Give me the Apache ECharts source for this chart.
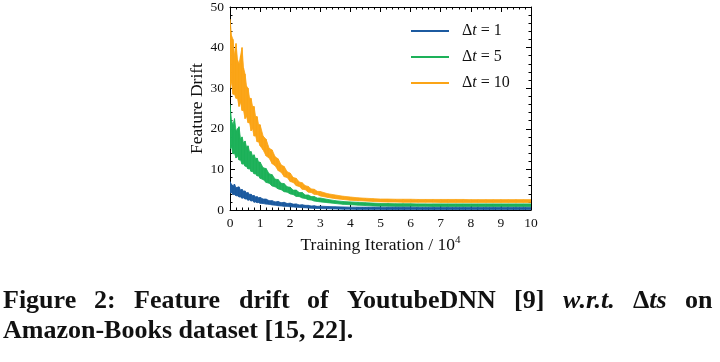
<!DOCTYPE html>
<html>
<head>
<meta charset="utf-8">
<script src="https://cdn.jsdelivr.net/npm/echarts@6/dist/echarts.min.js"></script>
<style>html,body{margin:0;padding:0;background:#fff;}#c{width:720px;height:362px;}</style>
</head>
<body>
<div id="c"></div>
<script>
// Training iteration (x 10^4)
const iterations = [0,0.05,0.1,0.15,0.2,0.25,0.3,0.35,0.4,0.45,0.5,0.55,0.6,0.65,0.7,0.75,0.8,0.85,0.9,0.95,1.0,
  1.1,1.2,1.3,1.4,1.5,1.6,1.7,1.8,1.9,2.0,2.1,2.2,2.3,2.4,2.5,2.6,2.7,2.8,2.9,3.0,
  3.25,3.5,3.75,4,4.25,4.5,4.75,5,5.25,5.5,5.75,6,6.25,6.5,6.75,7,7.25,7.5,7.75,8,8.25,8.5,8.75,9,9.25,9.5,9.75,10];
// Feature drift, upper / lower edge of the noisy band
const dt1_upper = [7,6.3,6.0,6.4,5.5,5.6,5.7,4.9,5.1,4.6,4.7,4.2,4.3,3.8,3.9,3.5,3.6,3.2,3.3,3.0,3.1,
  2.7,2.7,2.3,2.3,2.0,2.1,1.8,1.9,1.6,1.7,1.45,1.5,1.25,1.3,1.15,1.15,1.0,1.05,0.9,0.95,
  0.85,0.8,0.75,0.7,0.7,0.7,0.7,0.7,0.7,0.7,0.7,0.7,0.65,0.65,0.65,0.65,0.65,0.65,0.65,0.65,0.65,0.65,0.65,0.65,0.65,0.65,0.65,0.65];
const dt1_lower = [4.2,4.3,3.8,3.8,3.5,3.5,3.2,3.2,2.9,3.0,2.7,2.7,2.4,2.5,2.2,2.3,1.9,2.0,1.8,1.85,1.65,
  1.6,1.45,1.4,1.25,1.2,1.05,1.0,0.9,0.9,0.78,0.75,0.68,0.65,0.58,0.55,0.48,0.45,0.4,0.4,0.35,
  0.3,0.25,0.2,0.2,0.15,0.15,0.15,0.15,0.1,0.1,0.1,0.1,0.1,0.1,0.1,0.1,0.1,0.1,0.1,0.1,0.1,0.1,0.1,0.1,0.1,0.1,0.1,0.1];
const dt5_upper = [26,22,21,22.5,19.5,20,20.5,17.5,18,16.5,17,15.5,15.8,14.3,14.4,13.3,13.6,12.6,12.8,11.8,11.8,
  10.4,10.2,8.9,8.7,7.6,7.5,6.6,6.5,5.7,5.6,4.9,4.9,4.3,4.3,3.7,3.7,3.3,3.3,2.95,2.95,
  2.6,2.3,2.1,2.0,1.9,1.8,1.7,1.6,1.6,1.55,1.55,1.55,1.5,1.5,1.5,1.5,1.5,1.5,1.5,1.5,1.5,1.5,1.5,1.5,1.5,1.5,1.5,1.5];
const dt5_lower = [15,15.5,13.8,14,12.8,13.3,12.3,12.3,11.3,11.4,10.8,10.7,10.1,10.2,9.5,9.5,8.9,8.9,8.4,8.4,7.8,
  7.5,6.8,6.6,5.9,5.7,5.2,5.0,4.5,4.4,3.95,3.8,3.35,3.3,2.95,2.85,2.55,2.45,2.2,2.1,2.0,
  1.8,1.6,1.4,1.3,1.2,1.1,1.0,0.95,0.95,0.9,0.9,0.9,0.9,0.9,0.85,0.85,0.85,0.85,0.85,0.85,0.85,0.85,0.85,0.85,0.85,0.85,0.85,0.85];
const dt10_upper = [47,43,42,38,41,37,36,38,40,35,33.5,30.5,30,27.5,27.5,25.5,25.5,23,23,21,21,
  18.2,17.4,15.2,14.8,13.1,12.6,11.1,10.7,9.4,9.1,8.0,7.8,6.9,6.7,6.0,5.8,5.2,5.1,4.6,4.55,
  4.0,3.7,3.4,3.2,3.0,2.9,2.8,2.7,2.7,2.65,2.65,2.65,2.6,2.6,2.6,2.6,2.6,2.6,2.6,2.55,2.55,2.55,2.55,2.55,2.55,2.55,2.55,2.55];
const dt10_lower = [30,31.5,28.5,28.5,27.5,27.5,25.5,26.5,24.5,24.5,22.5,23,21.5,21.5,19.5,20,18.2,18.3,16.8,16.8,15.8,
  14.8,13.3,12.8,11.4,10.9,9.7,9.3,8.2,8.0,7.0,6.8,6.0,5.8,5.1,5.0,4.4,4.3,3.85,3.8,3.45,
  3.1,2.8,2.6,2.4,2.3,2.2,2.1,2.0,1.95,1.95,1.9,1.9,1.9,1.9,1.9,1.85,1.85,1.85,1.85,1.85,1.85,1.85,1.85,1.85,1.85,1.85,1.85,1.85];
const seriesNames = ['Δt = 1', 'Δt = 5', 'Δt = 10'];
const seriesColors = ['#1c5aa0', '#1db159', '#fba416'];
const upperData = [dt1_upper, dt5_upper, dt10_upper];
const lowerData = [dt1_lower, dt5_lower, dt10_lower];
const captionLine1 = ['Figure', '2:', 'Feature', 'drift', 'of', 'YoutubeDNN', '[9]', 'w.r.t.', 'Δts', 'on'];
const captionLine2 = 'Amazon-Books dataset [15, 22].';

const FONT = 'Liberation Serif';
const chart = echarts.init(document.getElementById('c'), null, {renderer: 'canvas'});

function axisCommon(show) {
  return {
    min: 0,
    axisLine: {show: true, onZero: false, lineStyle: {color: '#000', width: 1}},
    axisTick: {show: true, inside: true, length: 5, lineStyle: {color: '#000', width: 1}},
    minorTick: {show: true, splitNumber: 5, length: 2.5, lineStyle: {color: '#000', width: 1}},
    splitLine: {show: false},
    axisLabel: {show: show, color: '#111', fontFamily: FONT, fontSize: 13.5, margin: 6}
  };
}

const xMain = Object.assign(axisCommon(true), {
  type: 'value', max: 10, interval: 1, position: 'bottom',
  name: '{a|Training Iteration / 10}{s|4}', nameLocation: 'middle', nameGap: 24,
  nameTextStyle: {rich: {a: {fontFamily: FONT, fontSize: 17.5, color: '#111'}, s: {fontFamily: FONT, fontSize: 11, color: '#111', padding: [0,0,10,0]}}}
});
const xTop = Object.assign(axisCommon(false), {type: 'value', max: 10, interval: 1, position: 'top'});
const yMain = Object.assign(axisCommon(true), {
  type: 'value', max: 50, interval: 10, position: 'left',
  name: 'Feature Drift', nameLocation: 'middle', nameGap: 24,
  nameTextStyle: {fontFamily: FONT, fontSize: 17.5, color: '#111'}
});
const yRight = Object.assign(axisCommon(false), {type: 'value', max: 50, interval: 10, position: 'right'});

// each band is drawn as quads between consecutive samples: [x0, lo0, hi0, x1, lo1, hi1]
function bandRows(i) {
  const rows = [];
  for (let j = 0; j < iterations.length - 1; j++) {
    rows.push([iterations[j], lowerData[i][j], upperData[i][j], iterations[j + 1], lowerData[i][j + 1], upperData[i][j + 1]]);
  }
  return rows;
}
function renderBand(params, api) {
  const a = api.coord([api.value(0), api.value(2)]);
  const b = api.coord([api.value(3), api.value(5)]);
  const c = api.coord([api.value(3), api.value(4)]);
  const d = api.coord([api.value(0), api.value(1)]);
  const color = api.visual('color');
  return {type: 'polygon', shape: {points: [a, b, c, d]}, style: {fill: color, stroke: color, lineWidth: 0.8}};
}
const series = [2, 1, 0].map(i => ({
  name: seriesNames[i], type: 'custom', xAxisIndex: 0, yAxisIndex: 0,
  renderItem: renderBand, data: bandRows(i),
  encode: {x: [0, 3], y: [1, 2, 4, 5]},
  itemStyle: {color: seriesColors[i]},
  clip: true, silent: true, animation: false, z: 3 - i
}));

// caption: line 1 justified between left and right margins (like the paper)
const CAP = 26;
const ctx = document.createElement('canvas').getContext('2d');
function w(txt, italic) { ctx.font = (italic ? 'italic ' : '') + 'bold ' + CAP + 'px "' + FONT + '"'; return ctx.measureText(txt).width; }
const widths = captionLine1.map(t => t === 'w.r.t.' ? w(t, true) : (t === 'Δts' ? w('Δ') + w('ts', true) : w(t)));
const L = 3, R = 712;
const gap = (R - L - widths.reduce((a, b) => a + b, 0)) / (captionLine1.length - 1);
const graphics = [];
let cx = L;
captionLine1.forEach((t, i) => {
  let text = t, rich = null;
  const italic = t === 'w.r.t.';
  if (t === 'Δts') { text = '{n|Δ}{i|ts}'; rich = {n: {fontFamily: FONT, fontWeight: 'bold', fontSize: CAP, fill: '#111'}, i: {fontFamily: FONT, fontWeight: 'bold', fontStyle: 'italic', fontSize: CAP, fill: '#111'}}; }
  graphics.push({type: 'text', left: Math.round(cx), top: 288,
    style: {text: text, fontFamily: FONT, fontWeight: 'bold', fontStyle: italic ? 'italic' : 'normal', fontSize: CAP, fill: '#111', rich: rich}});
  cx += widths[i] + gap;
});
graphics.push({type: 'text', left: L, top: 318, style: {text: captionLine2, fontFamily: FONT, fontWeight: 'bold', fontSize: CAP, fill: '#111'}});

chart.setOption({
  backgroundColor: '#fff',
  animation: false,
  grid: {left: 230, right: 189, top: 7, bottom: 152, containLabel: false},
  xAxis: [xMain, xTop],
  yAxis: [yMain, yRight],
  legend: {
    data: seriesNames, orient: 'vertical', left: 406, top: 18,
    itemWidth: 38, itemHeight: 14, itemGap: 10,
    icon: 'path://M0,6 L38,6 L38,8 L0,8 Z',
    formatter: function (name) { const p = name.split('t'); return '{n|' + p[0] + '}{i|t}{n|' + p[1] + '}'; },
    textStyle: {padding: [0,0,0,8], rich: {n: {fontFamily: FONT, fontSize: 16, color: '#111'}, i: {fontFamily: FONT, fontSize: 16, fontStyle: 'italic', color: '#111'}}}
  },
  graphic: graphics,
  series: series
});
</script>
</body>
</html>
